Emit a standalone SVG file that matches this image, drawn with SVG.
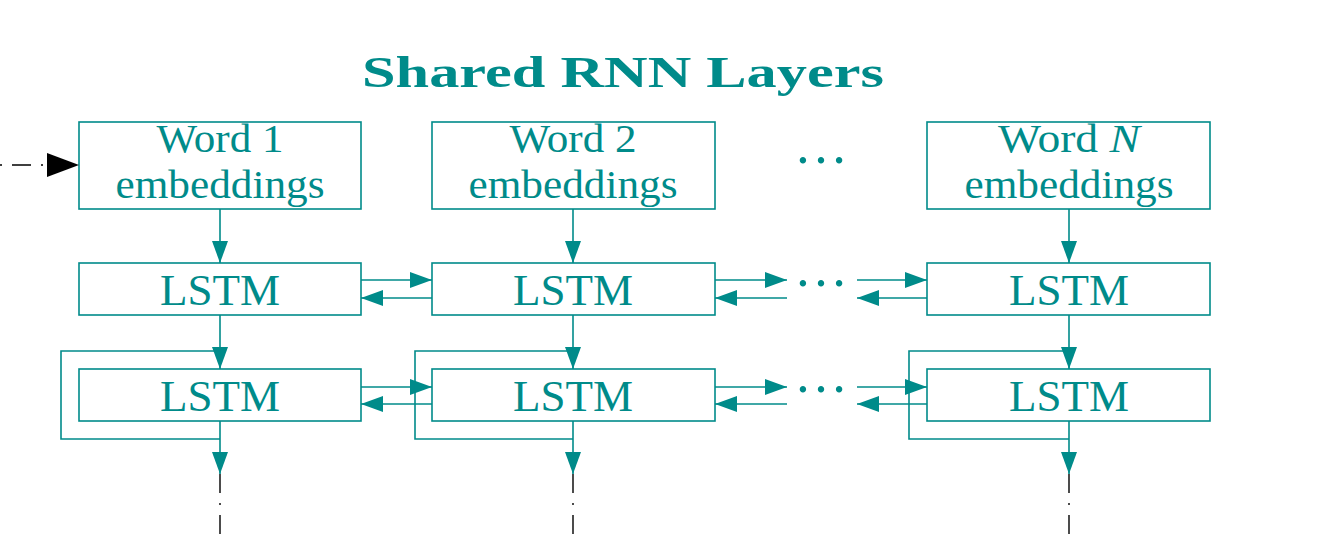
<svg xmlns="http://www.w3.org/2000/svg" width="1318" height="544" viewBox="0 0 1318 544">
<style>
.box{fill:none;stroke:#008B8A;stroke-width:1.6}
.ln{fill:none;stroke:#008B8A;stroke-width:1.6}
.blk{fill:none;stroke:#000;stroke-width:1.4;stroke-dasharray:19 10 2 10}
.t{font-family:"Liberation Serif","Times New Roman",serif;fill:#008B8A;text-anchor:middle}
.w{font-size:40px}
.l{font-size:45px}
.d{font-size:54px}
.title{font-size:45px;font-weight:bold}
</style>
<defs>
<marker id="ah" markerUnits="userSpaceOnUse" markerWidth="22" markerHeight="16" refX="22" refY="8" orient="auto">
<path d="M0,0 L22,8 L0,16 z" fill="#008B8A"/>
</marker>
<marker id="bh" markerUnits="userSpaceOnUse" markerWidth="32" markerHeight="24" refX="32" refY="12" orient="auto">
<path d="M0,0 L32,12 L0,24 z" fill="#000"/>
</marker>
</defs>
<rect width="1318" height="544" fill="#fff"/>
<text class="t title" x="623" y="87" textLength="522" lengthAdjust="spacingAndGlyphs">Shared RNN Layers</text>

<g id="word1"><rect class="box" x="79" y="122" width="282" height="87"/><text class="t w" x="220" y="152" textLength="127" lengthAdjust="spacingAndGlyphs">Word 1</text><text class="t w" x="220" y="198" textLength="209" lengthAdjust="spacingAndGlyphs">embeddings</text></g>
<g id="word2"><rect class="box" x="432" y="122" width="283" height="87"/><text class="t w" x="573" y="152" textLength="127" lengthAdjust="spacingAndGlyphs">Word 2</text><text class="t w" x="573" y="198" textLength="209" lengthAdjust="spacingAndGlyphs">embeddings</text></g>
<g id="dotsTop"><text class="t d" x="821" y="163">…</text></g>
<g id="wordN"><rect class="box" x="927" y="122" width="283" height="87"/><text class="t w" x="1069" y="152" textLength="142" lengthAdjust="spacingAndGlyphs">Word <tspan font-style="italic">N</tspan></text><text class="t w" x="1069" y="198" textLength="209" lengthAdjust="spacingAndGlyphs">embeddings</text></g>

<g id="lstm1a"><rect class="box" x="79" y="263" width="282" height="52"/><text class="t l" x="220" y="305">LSTM</text></g>
<g id="lstm2a"><rect class="box" x="432" y="263" width="283" height="52"/><text class="t l" x="573" y="305">LSTM</text></g>
<g id="dotsA"><text class="t d" x="821" y="286">…</text></g>
<g id="lstmNa"><rect class="box" x="927" y="263" width="283" height="52"/><text class="t l" x="1069" y="305">LSTM</text></g>

<g id="lstm1b"><rect class="box" x="79" y="369" width="282" height="52"/><text class="t l" x="220" y="411">LSTM</text></g>
<g id="lstm2b"><rect class="box" x="432" y="369" width="283" height="52"/><text class="t l" x="573" y="411">LSTM</text></g>
<g id="dotsB"><text class="t d" x="821" y="392">…</text></g>
<g id="lstmNb"><rect class="box" x="927" y="369" width="283" height="52"/><text class="t l" x="1069" y="411">LSTM</text></g>

<g id="connectors">
<line class="blk" x1="0" y1="165" x2="79" y2="165" stroke-dashoffset="29" marker-end="url(#bh)"/>
<line class="ln" x1="220" y1="209" x2="220" y2="263" marker-end="url(#ah)"/>
<line class="ln" x1="573" y1="209" x2="573" y2="263" marker-end="url(#ah)"/>
<line class="ln" x1="1069" y1="209" x2="1069" y2="263" marker-end="url(#ah)"/>

<line class="ln" x1="220" y1="315" x2="220" y2="369" marker-end="url(#ah)"/>
<line class="ln" x1="573" y1="315" x2="573" y2="369" marker-end="url(#ah)"/>
<line class="ln" x1="1069" y1="315" x2="1069" y2="369" marker-end="url(#ah)"/>

<line class="ln" x1="361" y1="280" x2="432" y2="280" marker-end="url(#ah)"/>
<line class="ln" x1="432" y1="298" x2="361" y2="298" marker-end="url(#ah)"/>
<line class="ln" x1="715" y1="280" x2="787" y2="280" marker-end="url(#ah)"/>
<line class="ln" x1="787" y1="298" x2="715" y2="298" marker-end="url(#ah)"/>
<line class="ln" x1="857" y1="280" x2="927" y2="280" marker-end="url(#ah)"/>
<line class="ln" x1="927" y1="298" x2="857" y2="298" marker-end="url(#ah)"/>

<line class="ln" x1="361" y1="387" x2="432" y2="387" marker-end="url(#ah)"/>
<line class="ln" x1="432" y1="404" x2="361" y2="404" marker-end="url(#ah)"/>
<line class="ln" x1="715" y1="387" x2="787" y2="387" marker-end="url(#ah)"/>
<line class="ln" x1="787" y1="404" x2="715" y2="404" marker-end="url(#ah)"/>
<line class="ln" x1="857" y1="387" x2="927" y2="387" marker-end="url(#ah)"/>
<line class="ln" x1="927" y1="404" x2="857" y2="404" marker-end="url(#ah)"/>

<polyline class="ln" points="220,439 61,439 61,351 220,351"/>
<polyline class="ln" points="573,439 415,439 415,351 573,351"/>
<polyline class="ln" points="1069,439 909,439 909,351 1069,351"/>

<line class="ln" x1="220" y1="421" x2="220" y2="474" marker-end="url(#ah)"/>
<line class="ln" x1="573" y1="421" x2="573" y2="474" marker-end="url(#ah)"/>
<line class="ln" x1="1069" y1="421" x2="1069" y2="474" marker-end="url(#ah)"/>
<line class="blk" x1="220" y1="474" x2="220" y2="544"/>
<line class="blk" x1="573" y1="474" x2="573" y2="544"/>
<line class="blk" x1="1069" y1="474" x2="1069" y2="544"/>
</g>
</svg>
